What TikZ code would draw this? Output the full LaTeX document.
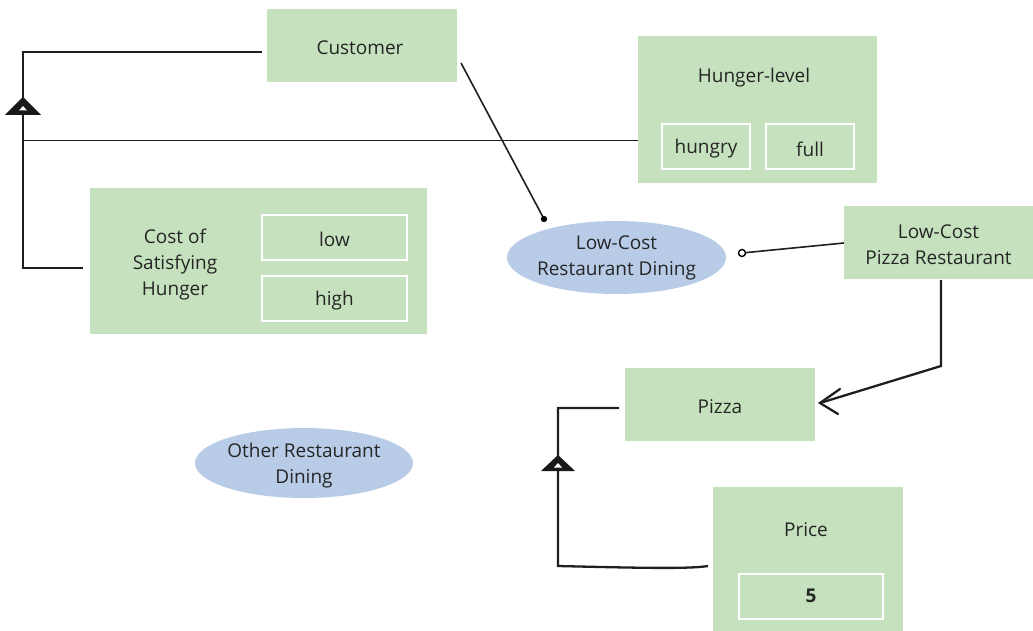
\documentclass[tikz,border=0pt]{standalone}
\usepackage{fontspec}
\setmainfont{Open Sans}
\usetikzlibrary{calc,shapes.geometric}
\definecolor{boxgreen}{RGB}{197,225,189}
\definecolor{ovalblue}{RGB}{184,204,232}
\definecolor{ink}{RGB}{38,38,38}
\begin{document}
\begin{tikzpicture}[x=1pt,y=-1pt,
  every node/.style={text=ink,font=\fontsize{19}{26}\selectfont,inner sep=0pt,align=center},
  cls/.style={fill=boxgreen,draw=none,minimum width=#1},
  val/.style={fill=boxgreen,draw=white,line width=2pt,minimum width=#1,minimum height=45pt},
  oval/.style={ellipse,fill=ovalblue,draw=none},
  thick line/.style={draw=black!88,line width=2.3pt},
  thin line/.style={draw=black!88,line width=1pt}]
\useasboundingbox (0,0) rectangle (1033,631);

% classes
\node[cls=190pt,minimum height=73pt] (cust) at (362,45.5) {};
\node (custt) at (360,48) {Customer};

\node[cls=239pt,minimum height=147pt] (hunger) at (757.5,109.5) {};
\node (hungert) at (754,77.5) {Hunger-level};
\node[val=88pt] (hungry) at (706,146.5) {};
\node (hungryt) at ([yshift=-2.5pt]hungry.center) {hungry};
\node[val=88pt] (full) at (810,146.5) {};
\node (fullt) at ([yshift=-2.5pt]full.center) {full};

\node[cls=337pt,minimum height=146pt] (cost) at (258.5,261) {};
\node (costt) at (175,265) {Cost of\\Satisfying\\Hunger};
\node[val=145pt] (low) at (334.5,237.5) {};
\node (lowt) at ([yshift=-2pt]low.center) {low};
\node[val=145pt] (high) at (334.5,298.5) {};
\node (hight) at ([yshift=-2pt]high.center) {high};

\node[cls=189pt,minimum height=73pt] (lcpr) at (938.5,242.5) {};
\node (lcprt) at ([yshift=-2.5pt]lcpr.center) {Low-Cost\\Pizza Restaurant};
\node[cls=190pt,minimum height=73pt] (pizza) at (720,404.5) {};
\node (pizzat) at ([yshift=-2pt]pizza.center) {Pizza};

\node[cls=190pt,minimum height=144pt] (price) at (808,559) {};
\node (pricet) at (806,530) {Price};
\node[val=144pt] (five) at (811,596.5) {};
\node[font=\fontsize{19}{26}\selectfont\bfseries] (fivet) at ([yshift=1pt]five.center) {5};

% ovals
\node[oval,minimum width=219pt,minimum height=73pt] (lcrd) at (616.5,257.5) {};
\node (lcrdt) at (lcrd.center) {Low-Cost\\Restaurant Dining};
\node[oval,minimum width=218pt,minimum height=70pt] (other) at (304,463) {};
\node (othert) at ([yshift=-2.5pt]other.center) {Other Restaurant\\Dining};

% bend points and free ends
\coordinate (c1) at (262,52);
\coordinate (c2) at (23,52);
\coordinate (c3) at (23,268);
\coordinate (c4) at (83,268);
\coordinate (h1) at (23,141);
\coordinate (tri1) at (23,97);
\coordinate (d1) at (461,63);
\coordinate (d2) at (544,219);
\coordinate (e1) at (844,243);
\coordinate (e2) at (742,253);
\coordinate (f1) at (941,280);
\coordinate (f2) at (941,366);
\coordinate (f3) at (820,403);
\coordinate (g1) at (619,408);
\coordinate (g2) at (558,408);
\coordinate (g3) at (558,566);
\coordinate (g4) at (708,566);
\coordinate (tri2) at (558,455);

% generalization: Customer
\draw[thick line] (c1) -- (c2) -- (c3) -- (c4);
\draw[thin line] (h1) -- (hunger.west |- h1);
\fill[black!90] (tri1) -- ++(18,18) -- ++(-36,0) -- cycle;
\fill[white] ($(tri1)+(0,9)$) -- ++(4,4.5) -- ++(-8,0) -- cycle;

% Customer to Low-Cost Restaurant Dining
\draw[thin line,line width=1.6pt] (d1) -- (d2);
\fill[black] (d2) circle (3.2);

% Low-Cost Pizza Restaurant to Low-Cost Restaurant Dining
\draw[thin line,line width=1.6pt] (e1) -- ($(e2)!4pt!(e1)$);
\draw[black,line width=1.4pt,fill=white] (e2) circle (3.5);

% Low-Cost Pizza Restaurant to Pizza
\draw[thick line,line join=miter] (f1) -- (f2) -- (f3);
\draw[thick line,line cap=round] ($(f3)+(20,-14)$) -- (f3) -- ($(f3)+(18,11)$);

% generalization: Pizza
\draw[thick line] (g1) -- (g2) -- (g3) .. controls (640,568) and (690,569) .. (g4);
\fill[black!90] (tri2) -- ++(17,16) -- ++(-34,0) -- cycle;
\fill[white] ($(tri2)+(0,8)$) -- ++(4,4.5) -- ++(-8,0) -- cycle;
\end{tikzpicture}
\end{document}
